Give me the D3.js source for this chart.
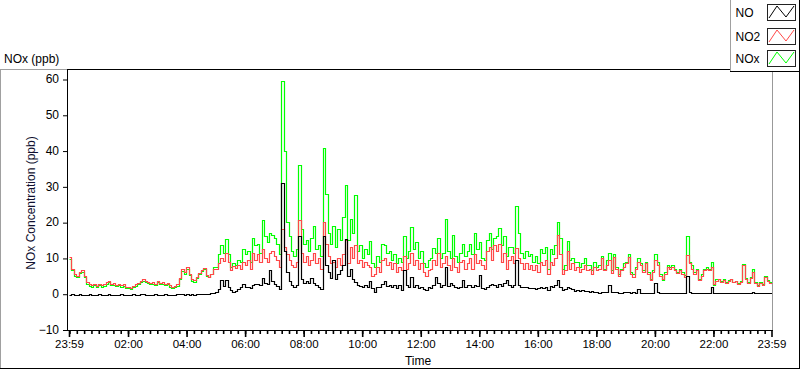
<!DOCTYPE html>
<html><head><meta charset="utf-8">
<script src="https://cdn.jsdelivr.net/npm/d3@7"></script>
<style>
html,body{margin:0;padding:0;background:#fff;}
svg{display:block;}
</style></head><body>
<svg id="c" width="800" height="369"></svg>
<script>
// ---- data (5-minute samples, from 23:59 to 23:59 next day) ----
const startTime = new Date(2000, 0, 1, 23, 59);
const endTime = new Date(2000, 0, 2, 23, 59);
const stepMinutes = 5;
const seriesNames = ["NO", "NO2", "NOx"];
const seriesColors = ["#000000", "#ff4848", "#00ff00"];
const yTicks = [-10, 0, 10, 20, 30, 40, 50, 60];
const xTickHours = [2, 4, 6, 8, 10, 12, 14, 16, 18, 20, 22];

const no = [
-0.3,-0.2,-0.4,-0.3,-0.2,-0.3,-0.4,-0.3,-0.2,-0.3,-0.4,-0.3,
-0.2,-0.3,-0.3,-0.4,-0.2,-0.3,-0.3,-0.4,-0.3,-0.2,-0.3,-0.4,
-0.3,-0.3,-0.2,-0.4,-0.3,-0.2,-0.1,-0.3,-0.4,-0.3,-0.3,-0.2,
-0.4,-0.3,-0.3,-0.2,-0.3,-0.4,-0.3,-0.3,-0.2,-0.1,-0.2,-0.3,
-0.2,-0.3,-0.2,-0.3,-0.1,-0.2,0.0,-0.2,-0.1,0.0,0.1,0.3,
0.6,1.2,3.8,2.2,3.8,2.0,1.0,0.6,0.8,1.2,1.8,2.8,
1.8,2.0,1.5,2.5,2.6,2.8,2.5,4.3,3.0,2.6,6.5,3.5,
2.8,2.2,1.2,31.0,12.0,6.0,3.5,2.5,2.0,2.5,16.0,4.0,
3.0,3.5,3.0,4.5,3.0,2.5,2.0,1.2,16.0,8.0,6.0,4.5,
9.5,4.0,5.5,6.5,8.0,15.3,5.0,7.0,4.0,3.4,2.5,2.2,
2.0,2.5,2.0,3.5,1.5,0.6,2.0,1.8,2.8,3.5,2.2,2.5,
1.8,2.5,1.5,2.5,1.0,6.7,2.5,2.0,4.8,2.0,2.5,1.5,
2.0,1.2,1.0,1.8,1.5,2.5,4.8,3.0,2.0,2.5,7.6,2.2,
3.0,2.5,2.0,1.5,2.0,3.8,2.0,2.5,2.5,1.8,2.5,2.2,
5.2,1.5,1.2,2.0,2.5,2.8,2.5,2.0,2.8,2.2,3.0,3.8,
2.5,2.0,2.5,9.4,2.5,2.0,1.8,2.0,1.5,1.5,1.5,1.2,
1.5,2.0,1.5,2.0,1.0,2.2,2.0,2.5,3.9,2.0,1.0,1.2,
2.0,1.5,1.2,0.8,1.0,0.8,1.0,0.8,0.8,0.6,0.8,0.6,
0.4,0.3,0.6,0.4,0.6,2.5,0.6,0.6,0.4,0.2,0.2,0.4,
0.4,0.4,0.3,0.4,0.3,1.3,0.2,0.2,0.3,0.2,0.1,0.2,
3.0,0.6,0.2,0.1,0.2,0.2,0.1,0.1,0.1,0.2,0.1,0.3,
0.3,5.0,0.6,0.3,0.2,0.2,0.2,0.2,0.1,0.2,0.3,1.8,
0.2,0.2,0.1,0.1,0.1,0.1,0.1,0.1,0.1,0.1,0.1,0.2,
0.2,0.3,0.1,0.1,0.4,0.1,0.3,0.1,0.2,0.1,0.1,0.1,
0.1
];

const no2 = [
10.2,7.0,5.5,5.0,6.2,6.5,5.0,3.2,2.6,2.3,2.8,2.2,
2.7,2.3,2.6,3.2,3.6,2.7,2.9,2.5,2.8,2.4,2.6,1.9,
2.0,1.6,2.2,2.6,3.0,3.6,4.0,3.6,3.4,3.0,3.2,2.8,
3.6,3.0,3.2,2.8,3.0,2.4,2.0,2.2,2.6,4.5,6.8,6.0,
7.4,5.5,4.0,3.8,4.8,5.8,6.6,7.2,5.2,4.8,5.5,7.0,
6.8,8.5,10.0,9.2,11.5,9.0,6.5,7.8,7.2,8.0,7.0,9.0,
8.0,9.5,7.0,11.5,9.5,11.0,8.8,12.5,10.0,9.0,11.5,12.0,
10.5,9.5,7.5,18.0,13.0,11.0,9.5,8.0,7.5,9.0,20.5,11.5,
9.0,10.5,8.0,9.5,11.5,8.5,10.0,7.0,20.0,14.0,10.5,8.5,
9.0,7.5,10.0,8.0,11.0,15.0,8.5,13.0,10.0,13.5,8.5,9.5,
7.5,9.0,8.0,7.5,5.0,5.5,7.5,6.0,9.5,10.0,8.0,9.0,
7.0,8.5,6.0,7.5,6.5,10.5,7.0,8.5,11.5,8.0,9.5,7.0,
8.5,6.0,5.0,6.5,7.0,9.5,8.0,11.5,7.5,8.5,10.5,8.0,
6.5,10.0,7.5,6.0,9.0,9.5,7.0,8.5,10.0,7.0,11.0,8.5,
9.5,8.0,7.0,12.0,13.0,9.5,13.5,12.0,14.0,9.0,11.5,7.0,
9.5,10.5,8.5,12.7,10.0,8.5,7.0,8.5,7.0,8.0,6.5,8.0,
6.0,9.0,8.0,9.5,5.5,9.0,8.0,10.0,16.5,11.0,5.5,6.5,
12.0,7.0,8.5,6.5,7.5,6.0,7.0,8.0,6.5,7.0,5.5,7.5,
6.5,7.0,10.0,6.5,8.0,9.5,5.8,10.3,7.0,5.0,6.5,7.5,
8.5,10.3,5.5,4.8,7.0,9.0,8.0,6.0,8.5,5.5,3.8,6.0,
9.5,8.0,5.0,4.2,5.5,7.5,7.0,7.6,6.5,5.8,6.5,5.5,
4.8,10.9,8.5,7.0,5.5,6.5,3.8,5.0,6.5,7.0,6.5,7.5,
2.8,3.5,4.0,3.2,3.8,3.0,3.5,4.0,3.2,3.5,2.8,3.4,
8.0,4.0,3.0,4.5,6.2,3.0,2.2,3.0,2.5,4.8,3.5,3.0,
2.6
];

const nox = [
9.8,6.6,5.0,4.6,5.8,6.0,4.6,2.8,2.2,1.9,2.4,1.8,
2.3,1.9,2.2,2.8,3.2,2.3,2.5,2.1,2.4,2.0,2.2,1.5,
1.6,1.2,1.8,2.2,2.6,3.2,3.6,3.2,3.0,2.6,2.8,2.4,
3.2,2.6,2.8,2.4,2.6,2.0,1.6,1.8,2.2,4.2,6.4,5.6,
7.0,5.1,3.6,3.4,4.5,5.5,6.4,6.9,5.0,4.7,5.5,7.5,
7.6,11.0,13.5,11.5,15.2,11.0,7.5,8.6,8.0,9.5,8.8,12.5,
11.0,12.0,9.0,15.5,13.5,14.0,11.5,20.5,16.0,14.5,17.0,16.5,
15.5,14.0,11.0,59.5,40.0,20.0,16.0,12.0,10.5,12.5,36.0,18.0,
14.0,15.0,12.0,15.5,19.0,12.5,13.5,10.5,40.8,28.0,17.0,14.0,
19.0,13.0,18.0,15.0,21.5,30.4,15.0,21.0,17.0,27.7,12.0,13.5,
10.0,12.5,11.0,14.6,8.5,7.5,10.5,9.0,14.0,13.5,11.5,12.0,
9.5,11.0,8.5,10.0,9.0,16.0,10.0,12.0,18.7,12.5,14.5,10.0,
12.0,8.5,7.5,9.5,10.0,12.8,11.5,15.5,10.0,11.5,20.8,12.0,
10.0,16.5,10.5,9.0,11.5,14.0,10.5,12.0,14.0,11.0,17.0,12.5,
14.5,10.0,9.5,15.0,17.0,12.5,15.5,16.0,18.3,13.5,16.0,10.5,
13.0,13.0,11.5,24.6,17.0,11.5,10.0,12.0,10.5,11.0,9.0,10.5,
8.5,12.5,11.5,13.0,6.8,12.5,11.0,13.5,20.0,15.5,7.0,8.0,
14.6,9.5,10.0,9.0,9.0,7.5,8.5,10.0,8.0,8.0,6.5,9.0,
7.5,8.0,10.5,7.0,9.5,11.3,6.5,11.0,7.5,5.5,7.0,8.5,
9.0,11.0,6.0,5.5,7.5,10.0,8.5,6.5,9.0,6.0,4.0,6.5,
11.0,9.0,5.5,3.8,6.0,8.0,7.5,8.0,7.0,6.2,7.0,6.0,
5.2,16.0,9.0,8.0,6.0,6.8,4.2,5.5,7.0,7.5,7.0,9.0,
2.5,4.0,4.2,3.5,4.2,3.2,3.8,4.2,3.4,3.6,3.0,3.6,
8.3,4.5,3.3,4.8,6.8,3.3,2.5,3.2,2.8,5.0,3.8,3.3,
2.8
];

// ---- layout ----
const FONT = '"Liberation Sans", Arial, sans-serif';
const svg = d3.select("#c").style("font-family", FONT);
const plot = {left: 68, right: 772, top: 69, bottom: 330};

const x = d3.scaleTime().domain([startTime, endTime]).range([69, 771.5]);
const y = d3.scaleLinear().domain([-10, 60]).range([329.5, 79]);

const timeOf = i => d3.timeMinute.offset(startTime, i * stepMinutes);
const px = v => Math.round(v) + 0.5;   // snap to pixel centres

// outer panel frame
svg.append("line").attr("x1", 0).attr("x2", 68).attr("y1", 69.5).attr("y2", 69.5).attr("stroke", "#a0a0a0");
svg.append("line").attr("x1", 0.5).attr("x2", 0.5).attr("y1", 69).attr("y2", 369).attr("stroke", "#a0a0a0");
svg.append("line").attr("x1", 0).attr("x2", 800).attr("y1", 368.5).attr("y2", 368.5).attr("stroke", "#000");
svg.append("line").attr("x1", 799.5).attr("x2", 799.5).attr("y1", 69).attr("y2", 369).attr("stroke", "#000");
svg.append("line").attr("x1", 772).attr("x2", 800).attr("y1", 69.5).attr("y2", 69.5).attr("stroke", "#a0a0a0");

// plot background & clip
svg.append("rect").attr("x", plot.left).attr("y", plot.top).attr("width", plot.right - plot.left).attr("height", plot.bottom - plot.top).attr("fill", "#fff");
svg.append("defs").append("clipPath").attr("id", "clip")
  .append("rect").attr("x", plot.left + 1).attr("y", plot.top + 1)
  .attr("width", plot.right - plot.left - 1).attr("height", plot.bottom - plot.top - 1);

// data lines (stepped, pixel-aligned like the original instrument display)
const series = [no, no2, nox];
const g = svg.append("g").attr("clip-path", "url(#clip)");
[2, 1, 0].forEach(k => {
  const line = d3.line().curve(d3.curveStepAfter)
    .x((d, i) => px(x(timeOf(i)))).y(d => px(y(d)));
  g.append("path").datum(series[k]).attr("d", line)
    .attr("fill", "none").attr("stroke", seriesColors[k]).attr("stroke-width", 1.2)
    .attr("stroke-linejoin", "miter");
});

// borders
svg.append("line").attr("x1", plot.left).attr("x2", plot.right + 1).attr("y1", 69.5).attr("y2", 69.5).attr("stroke", "#000");
svg.append("line").attr("x1", 67.5).attr("x2", 67.5).attr("y1", 69).attr("y2", 331).attr("stroke", "#000");
svg.append("line").attr("x1", 772.5).attr("x2", 772.5).attr("y1", 70).attr("y2", 331).attr("stroke", "#999");
svg.append("line").attr("x1", 67).attr("x2", 773).attr("y1", 330.5).attr("y2", 330.5).attr("stroke", "#000");

// y axis
const yAxis = d3.axisLeft(y).tickValues(yTicks).tickSize(4).tickPadding(4).tickSizeOuter(0);
const gy = svg.append("g").attr("transform", "translate(67,0)").call(yAxis);
gy.select(".domain").remove();
gy.selectAll("line").attr("stroke", "#000").attr("transform", "translate(0,0.5)");
gy.selectAll("text").attr("font-family", FONT).attr("font-size", 12).attr("fill", "#000");

// x axis: minor ticks every 15 minutes
const minorTicks = d3.timeMinute.every(15).range(d3.timeMinute.offset(startTime, 1), endTime);
const xMinor = d3.axisBottom(x).tickValues(minorTicks).tickSize(3).tickFormat("");
const gxm = svg.append("g").attr("transform", "translate(0,331)").call(xMinor);
gxm.select(".domain").remove();
gxm.selectAll("line").attr("stroke", "#000").attr("stroke-width", 1.6);

const majorTicks = [startTime].concat(xTickHours.map(h => new Date(2000, 0, 2, h, 0)), [endTime]);
const xAxis = d3.axisBottom(x).tickValues(majorTicks).tickSize(6).tickPadding(3)
  .tickFormat(d3.timeFormat("%H:%M"));
const gx = svg.append("g").attr("transform", "translate(0,331)").call(xAxis);
gx.select(".domain").remove();
gx.selectAll("line").attr("stroke", "#000").attr("stroke-width", 1.6);
gx.selectAll("text").attr("font-family", FONT).attr("font-size", 11.5).attr("fill", "#000");

// titles
svg.append("text").attr("x", 4).attr("y", 63).attr("font-size", 12).attr("fill", "#000").text("NOx (ppb)");
svg.append("text").attr("x", 418).attr("y", 365).attr("text-anchor", "middle").attr("font-size", 12).attr("fill", "#000").text("Time");
svg.append("text").attr("transform", "translate(35,203) rotate(-90)").attr("text-anchor", "middle")
  .attr("font-size", 12).attr("fill", "#101030").text("NOx Concentration (ppb)");

// legend
const leg = svg.append("g");
leg.append("rect").attr("x", 730.5).attr("y", -1).attr("width", 70).attr("height", 72.5).attr("fill", "#fff").attr("stroke", "none");
leg.append("line").attr("x1", 730.5).attr("x2", 730.5).attr("y1", 0).attr("y2", 72).attr("stroke", "#a0a0a0");
leg.append("line").attr("x1", 730).attr("x2", 800).attr("y1", 71.5).attr("y2", 71.5).attr("stroke", "#000");
leg.append("line").attr("x1", 799.5).attr("x2", 799.5).attr("y1", 0).attr("y2", 72).attr("stroke", "#000");
const legY = [4, 28, 50];
const legTextY = [17, 41, 63];
seriesNames.forEach((name, k) => {
  leg.append("text").attr("x", 735.5).attr("y", legTextY[k]).attr("font-size", 12).attr("fill", "#000").text(name);
  const bx = 767, by = legY[k];
  leg.append("rect").attr("x", bx + 0.5).attr("y", by + 0.5).attr("width", 28).attr("height", 16)
    .attr("fill", "#fff").attr("stroke", "#222");
  const pts = [[bx + 2, by + 14], [bx + 10, by + 2], [bx + 19, by + 13], [bx + 27, by + 2]];
  leg.append("path").attr("d", d3.line()(pts)).attr("fill", "none").attr("stroke", seriesColors[k]).attr("stroke-width", 1);
});
</script>
</body></html>
